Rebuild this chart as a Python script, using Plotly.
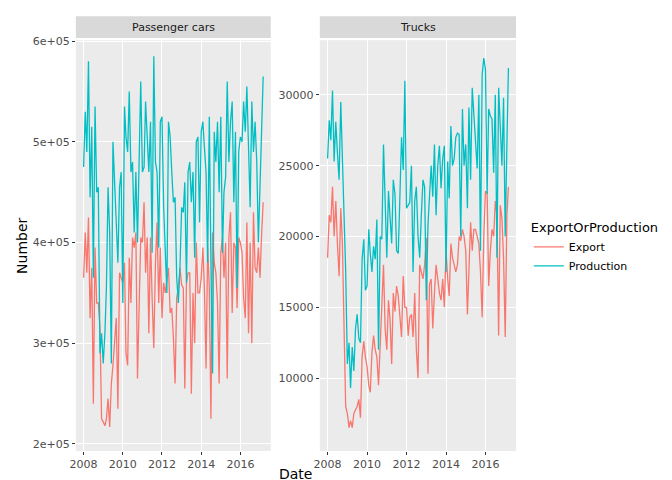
import plotly.graph_objects as go
import pandas as pd

dates = pd.date_range("2008-01-01", periods=111, freq="MS")

cars_production = [
    475, 530, 490, 580, 445, 515, 365, 535, 450, 455, 290, 310,
    280, 310, 355, 455, 410, 280, 500, 465, 420, 380, 455, 470,
    340, 535, 505, 490, 550, 470, 480, 410, 470, 400, 490, 560,
    470, 475, 540, 500, 470, 520, 390, 585, 480, 470, 395, 520,
    525, 435, 400, 350, 520, 505, 470, 440, 445, 365, 340, 375,
    435, 430, 460, 360, 470, 480, 440, 470, 385, 500, 505, 420,
    510, 520, 495, 470, 380, 525, 380, 270, 510, 480, 520, 450,
    525, 390, 450, 465, 560, 480, 520, 540, 440, 510, 355, 490,
    505, 500, 540, 510, 555, 480, 435, 540, 490, 520, 480, 400,
    450, 500, 565,
]
cars_export = [
    365, 410, 370, 425, 325, 375, 240, 395, 340, 340, 315, 225,
    222, 218, 225, 245, 217, 260, 278, 300, 325, 235, 370, 365,
    360, 380, 290, 278, 385, 340, 405, 395, 410, 265, 350, 405,
    400, 440, 370, 405, 310, 405, 345, 295, 380, 420, 340, 395,
    325, 360, 350, 365, 375, 330, 335, 305, 260, 345, 355, 375,
    358, 355, 255, 360, 370, 370, 250, 350, 300, 400, 350, 350,
    365, 395, 355, 275, 395, 355, 225, 410, 380, 370, 340, 260,
    390, 405, 365, 400, 265, 405, 430, 330, 400, 395, 335, 405,
    400, 390, 345, 325, 420, 310, 400, 300, 430, 375, 370, 395,
    365, 410, 440,
]
trucks_production = [
    25500, 28200, 26800, 30300, 25300, 28100, 25900, 24000, 29500, 26000, 22000, 17500,
    11000, 12500, 9300, 12200, 10500, 13500, 14500, 12800, 12500, 18400, 19800, 16200,
    16500, 20500, 18800, 17500, 19300, 18400, 21200, 12000, 20000, 19800, 26500, 21500,
    18500, 23200, 21500, 19500, 24000, 23000, 19000, 18800, 22900, 27000, 24700, 31000,
    22000, 22200, 22400, 25000, 17500, 22500, 23500, 20000, 18500, 21500, 24000, 23500,
    15500, 20800, 23000, 25000, 22800, 26500, 21500, 25000, 26400, 23400, 25500, 26400,
    17500, 25300, 22700, 27800, 25000, 25500, 27000, 27300, 27200, 20000, 29000, 25000,
    26500, 22000, 29100, 24000, 30500, 28800, 26700, 24800, 30000, 19000, 31400, 32600,
    31800, 23000, 29000, 28500, 28300, 24500, 30000, 18500, 30500, 28000, 25000, 29800,
    20000, 26500, 31900,
]
trucks_export = [
    18500, 21500, 21000, 23500, 20000, 22500, 19500, 17200, 22000, 19500, 13500, 8000,
    7500, 6500, 7000, 6500, 7500, 7800, 8000, 8500, 7200, 11500, 12600, 11500,
    10800, 9500, 9000, 11800, 13000, 12000, 11500, 9500, 12000, 14700, 18000, 13500,
    12000, 15500, 14200, 11000, 16000, 14700, 16500, 15800, 14000, 12900, 17200, 15000,
    15000, 13000, 14300, 14500, 12900, 16000, 12000, 10000, 18000, 17500, 17000, 18000,
    19900, 10300, 16600, 17000, 13500, 16000, 18000, 17000, 16000, 15500, 17000, 15000,
    19000, 17000, 15800, 19500, 18500, 18000, 17500, 18000, 20000, 19700, 20500, 20000,
    19000, 14500, 18500, 21000, 19000, 20500, 20500, 20000, 19500, 17500, 14300, 20000,
    23200, 23100, 16500, 19000, 20500, 20000, 22500, 21500, 13000, 22200, 21300, 18500,
    12900, 21500, 23500,
]

red, teal = "#F8766D", "#00BFC4"
fig = go.Figure()
fig.add_trace(go.Scatter(x=dates, y=[v * 1000 for v in cars_export], mode="lines",
                         line=dict(color=red, width=1.3), name="Export"))
fig.add_trace(go.Scatter(x=dates, y=[v * 1000 for v in cars_production], mode="lines",
                         line=dict(color=teal, width=1.3), name="Production"))
fig.add_trace(go.Scatter(x=dates, y=trucks_export, mode="lines", xaxis="x2", yaxis="y2",
                         line=dict(color=red, width=1.3), showlegend=False))
fig.add_trace(go.Scatter(x=dates, y=trucks_production, mode="lines", xaxis="x2", yaxis="y2",
                         line=dict(color=teal, width=1.3), showlegend=False))

ax = dict(gridcolor="white", gridwidth=1.2, showline=False, zeroline=False, automargin=False,
          ticks="outside", ticklen=3, tickcolor="#333", tickfont=dict(size=11, color="#4d4d4d"))
xr = ["2007-08-10", "2017-07-20"]
xt = ["2008-01-01", "2010-01-01", "2012-01-01", "2014-01-01", "2016-01-01"]
xa = dict(ax, range=xr, tickvals=xt, ticktext=["2008", "2010", "2012", "2014", "2016"])
dom_y = [0.077, 0.933]
fig.update_layout(
    width=672, height=480, margin=dict(l=0, r=0, t=0, b=0, autoexpand=False),
    paper_bgcolor="white", plot_bgcolor="#EBEBEB",
    font=dict(family="DejaVu Sans", color="#000"),
    xaxis=dict(xa, domain=[0.101, 0.391], anchor="y"),
    yaxis=dict(ax, domain=dom_y, range=[193000, 601000], anchor="x",
               tickvals=[200000, 300000, 400000, 500000, 600000],
               ticktext=["2e+05", "3e+05", "4e+05", "5e+05", "6e+05"]),
    xaxis2=dict(xa, domain=[0.464, 0.756], anchor="y2"),
    yaxis2=dict(ax, domain=dom_y, range=[4850, 33860], anchor="x2",
                tickvals=[10000, 15000, 20000, 25000, 30000],
                ticktext=["10000", "15000", "20000", "25000", "30000"]),
    legend=dict(x=0.775, y=0.5, yanchor="middle", font=dict(size=11), tracegroupgap=0,
                title=dict(text="ExportOrProduction", font=dict(size=13)), bgcolor="rgba(0,0,0,0)"),
    shapes=[
        dict(type="rect", xref="paper", yref="paper", x0=0.101, x1=0.391, y0=0.9375, y1=0.983,
             fillcolor="#D9D9D9", line_width=0),
        dict(type="rect", xref="paper", yref="paper", x0=0.464, x1=0.756, y0=0.9375, y1=0.983,
             fillcolor="#D9D9D9", line_width=0),
    ],
    annotations=[
        dict(text="Passenger cars", x=0.246, y=0.96, xref="paper", yref="paper",
             xanchor="center", yanchor="middle", showarrow=False, font=dict(size=11, color="#1a1a1a")),
        dict(text="Trucks", x=0.61, y=0.96, xref="paper", yref="paper",
             xanchor="center", yanchor="middle", showarrow=False, font=dict(size=11, color="#1a1a1a")),
        dict(text="Date", x=0.428, y=0.008, xref="paper", yref="paper", xanchor="center",
             yanchor="bottom", showarrow=False, font=dict(size=14)),
        dict(text="Number", x=0.005, y=0.505, xref="paper", yref="paper", xanchor="left",
             yanchor="middle", textangle=-90, showarrow=False, font=dict(size=14)),
    ],
)
fig.write_html("out.html")
